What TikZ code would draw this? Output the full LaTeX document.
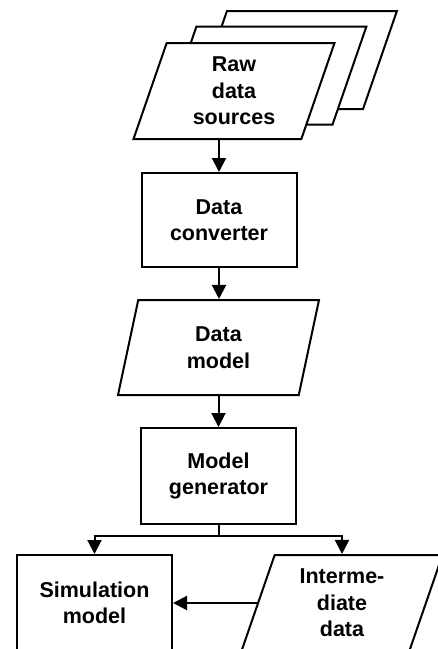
\documentclass[tikz,border=0pt]{standalone}
\usepackage{fontspec}
\setmainfont{Liberation Sans}
\usetikzlibrary{shapes.geometric,arrows.meta,backgrounds}
\newcommand\flowfont{\fontsize{21.5}{26.5}\selectfont\bfseries}
\begin{document}
\begin{tikzpicture}[x=1pt,y=-1pt,
  lw/.style={line width=2pt},
  proc/.style={draw,lw,fill=white,rectangle,minimum width=155pt,
    minimum height=95pt,inner sep=0pt,align=center,font=\flowfont},
  io/.style={draw,lw,fill=white,trapezium,trapezium left angle=64,
    trapezium right angle=116,trapezium stretches body,
    minimum width=201pt,minimum height=96pt,inner sep=0pt,
    align=center,font=\flowfont},
  arr/.style={lw,-{Triangle[length=14pt,width=14pt]}}]
\clip (0,0) rectangle (438,649);

% front sheet of the raw data sources
\node[io] (raw) at (234,91) {Raw\\data\\sources};

% two more sheets stacked behind it
\begin{scope}[on background layer]
  \foreach \dx/\dy in {61/-31, 30.5/-15.5}
    \draw[lw,fill=white]
      ([shift={(\dx,\dy)}]raw.bottom left corner) --
      ([shift={(\dx,\dy)}]raw.top left corner) --
      ([shift={(\dx,\dy)}]raw.top right corner) --
      ([shift={(\dx,\dy)}]raw.bottom right corner) -- cycle;
\end{scope}

% main chain
\node[proc,minimum height=94pt] (conv) at (219,220) {Data\\converter};
\node[io,minimum height=95pt] (dm) at (218.5,347.5) {Data\\model};
\node[proc,minimum height=96pt] (gen) at (218.5,476) {Model\\generator};

% outputs
\node[proc,minimum height=96pt] (sim) at (94.5,603) {Simulation\\model};
\node[io] (inter) at (342,603) {Interme-\\diate\\data};

\coordinate (split) at (218.5,535.5);

\draw[arr] (conv.north |- raw.south) -- (conv.north);
\draw[arr] (conv.south) -- (conv.south |- dm.north);
\draw[arr] (gen.north |- dm.south) -- (gen.north);
\draw[lw] (gen.south) -- (split);
\draw[arr] (split) -| (sim.north);
\draw[arr] (split) -| (inter.center |- inter.north);
\draw[arr] (inter) -- (sim);
\end{tikzpicture}
\end{document}
